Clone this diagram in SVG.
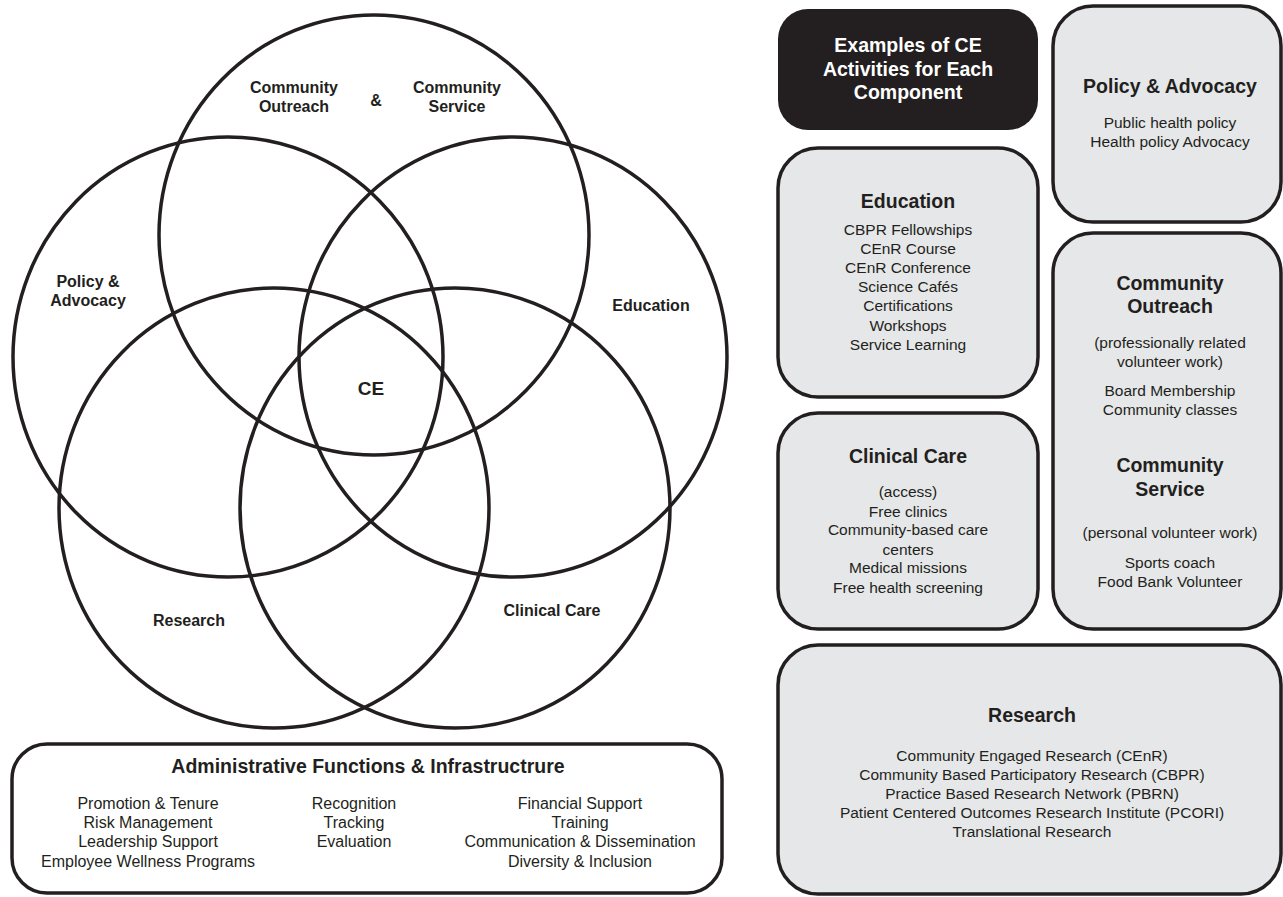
<svg xmlns="http://www.w3.org/2000/svg" width="1283" height="897" viewBox="0 0 1283 897">
<style>
.ell{fill:none;stroke:#231f20;stroke-width:3.5}
.box{fill:#e6e7e8;stroke:#231f20;stroke-width:3.5}
.adm{fill:#ffffff;stroke:#231f20;stroke-width:3.5}
.lb{font-family:"Liberation Sans",Arial,sans-serif;font-weight:bold;font-size:16px;fill:#231f20;text-anchor:middle}
.hd{font-family:"Liberation Sans",Arial,sans-serif;font-weight:bold;font-size:19.5px;fill:#231f20;text-anchor:middle}
.tx{font-family:"Liberation Sans",Arial,sans-serif;font-size:15.5px;fill:#231f20;text-anchor:middle}
.at{font-family:"Liberation Sans",Arial,sans-serif;font-size:16px;fill:#231f20;text-anchor:middle}
</style>
<rect width="1283" height="897" fill="#ffffff"/>
<g id="venn">
<ellipse class="ell" cx="374" cy="235" rx="215" ry="220"/>
<ellipse class="ell" cx="228" cy="357" rx="215" ry="220"/>
<ellipse class="ell" cx="513" cy="357" rx="214" ry="220"/>
<ellipse class="ell" cx="274" cy="508" rx="215" ry="220"/>
<ellipse class="ell" cx="455" cy="508" rx="215" ry="220"/>
</g>
<g id="venn-labels">
<text class="lb" x="294" y="93">Community</text>
<text class="lb" x="294" y="112">Outreach</text>
<text class="lb" x="376" y="106">&amp;</text>
<text class="lb" x="457" y="93">Community</text>
<text class="lb" x="457" y="112">Service</text>
<text class="lb" x="88" y="287">Policy &amp;</text>
<text class="lb" x="88" y="306">Advocacy</text>
<text class="lb" x="651" y="311">Education</text>
<text class="lb" x="371" y="395" style="font-size:19px">CE</text>
<text class="lb" x="189" y="626">Research</text>
<text class="lb" x="552" y="616">Clinical Care</text>
</g>
<g id="admin">
<rect class="adm" x="12" y="744" width="710" height="149" rx="35" ry="35"/>
<text class="lb" x="368" y="773" style="font-size:19.5px">Administrative Functions &amp; Infrastructrure</text>
<text class="at" x="148" y="809">Promotion &amp; Tenure</text>
<text class="at" x="148" y="828">Risk Management</text>
<text class="at" x="148" y="847">Leadership Support</text>
<text class="at" x="148" y="867">Employee Wellness Programs</text>
<text class="at" x="354" y="809">Recognition</text>
<text class="at" x="354" y="828">Tracking</text>
<text class="at" x="354" y="847">Evaluation</text>
<text class="at" x="580" y="809">Financial Support</text>
<text class="at" x="580" y="828">Training</text>
<text class="at" x="580" y="847">Communication &amp; Dissemination</text>
<text class="at" x="580" y="867">Diversity &amp; Inclusion</text>
</g>
<g id="examples-title">
<rect x="778" y="9" width="260" height="121" rx="30" ry="30" fill="#231f20"/>
<text class="hd" x="908" y="52" style="fill:#ffffff">Examples of CE</text>
<text class="hd" x="908" y="76" style="fill:#ffffff">Activities for Each</text>
<text class="hd" x="908" y="99" style="fill:#ffffff">Component</text>
</g>
<g id="policy-box">
<rect class="box" x="1053" y="6" width="228" height="216" rx="40" ry="40"/>
<text class="hd" x="1170" y="93">Policy &amp; Advocacy</text>
<text class="tx" x="1170" y="128">Public health policy</text>
<text class="tx" x="1170" y="147">Health policy Advocacy</text>
</g>
<g id="education-box">
<rect class="box" x="778" y="148" width="260" height="249" rx="40" ry="40"/>
<text class="hd" x="908" y="208">Education</text>
<text class="tx" x="908" y="235">CBPR Fellowships</text>
<text class="tx" x="908" y="254">CEnR Course</text>
<text class="tx" x="908" y="273">CEnR Conference</text>
<text class="tx" x="908" y="292">Science Cafés</text>
<text class="tx" x="908" y="311">Certifications</text>
<text class="tx" x="908" y="331">Workshops</text>
<text class="tx" x="908" y="350">Service Learning</text>
</g>
<g id="community-box">
<rect class="box" x="1053" y="233" width="228" height="396" rx="40" ry="40"/>
<text class="hd" x="1170" y="290">Community</text>
<text class="hd" x="1170" y="313">Outreach</text>
<text class="tx" x="1170" y="348">(professionally related</text>
<text class="tx" x="1170" y="367">volunteer work)</text>
<text class="tx" x="1170" y="396">Board Membership</text>
<text class="tx" x="1170" y="415">Community classes</text>
<text class="hd" x="1170" y="472">Community</text>
<text class="hd" x="1170" y="496">Service</text>
<text class="tx" x="1170" y="538">(personal volunteer work)</text>
<text class="tx" x="1170" y="568">Sports coach</text>
<text class="tx" x="1170" y="587">Food Bank Volunteer</text>
</g>
<g id="clinical-box">
<rect class="box" x="778" y="413" width="260" height="216" rx="40" ry="40"/>
<text class="hd" x="908" y="463">Clinical Care</text>
<text class="tx" x="908" y="497">(access)</text>
<text class="tx" x="908" y="517">Free clinics</text>
<text class="tx" x="908" y="535">Community-based care</text>
<text class="tx" x="908" y="555">centers</text>
<text class="tx" x="908" y="573">Medical missions</text>
<text class="tx" x="908" y="593">Free health screening</text>
</g>
<g id="research-box">
<rect class="box" x="778" y="645" width="503" height="249" rx="40" ry="40"/>
<text class="hd" x="1032" y="722">Research</text>
<text class="tx" x="1032" y="761">Community Engaged Research (CEnR)</text>
<text class="tx" x="1032" y="780">Community Based Participatory Research (CBPR)</text>
<text class="tx" x="1032" y="799">Practice Based Research Network (PBRN)</text>
<text class="tx" x="1032" y="818">Patient Centered Outcomes Research Institute (PCORI)</text>
<text class="tx" x="1032" y="837">Translational Research</text>
</g>
<g id="connectors"></g>
</svg>
